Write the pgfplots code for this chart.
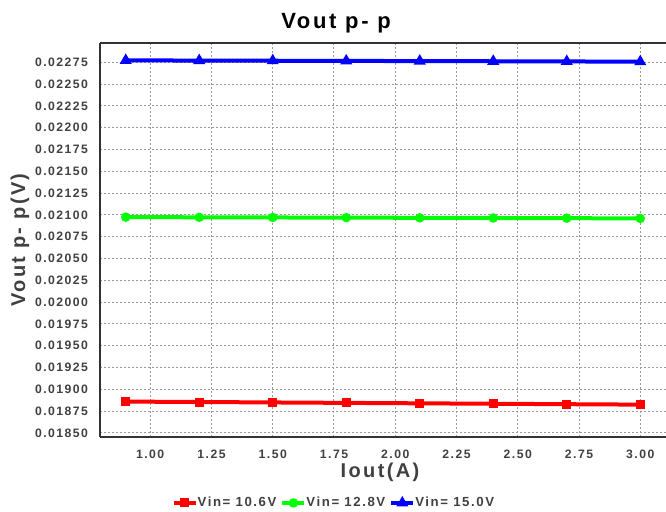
\documentclass[border=0pt]{standalone}
\usepackage{fontspec}
\setmainfont{Liberation Sans}[LetterSpace=12]
\usepackage{pgfplots}
\pgfplotsset{compat=1.18}
\definecolor{txt}{HTML}{404040}
\definecolor{gridc}{HTML}{9A9A9A}
\begin{document}
\begin{tikzpicture}
\path[use as bounding box] (-50pt,-37.5pt) rectangle (283pt,218.5pt);
\begin{axis}[
  at={(0pt,0pt)}, anchor=south west,
  scale only axis,
  width=283pt, height=196.85pt,
  xmin=0.795, xmax=3.105,
  ymin=0.018454, ymax=0.022968,
  axis x line*=bottom,
  axis y line*=left,
  axis line style={line width=0.9pt, color=black!80},
  xtick={1,1.25,1.5,1.75,2,2.25,2.5,2.75,3},
  ytick={0.0185,0.01875,0.019,0.01925,0.0195,0.01975,0.02,0.02025,0.0205,0.02075,0.021,0.02125,0.0215,0.02175,0.022,0.02225,0.0225,0.02275},
  scaled y ticks=false,
  major tick length=0pt,
  /pgf/number format/assume math mode=true,
  xticklabel style={/pgf/number format/fixed, /pgf/number format/fixed zerofill, /pgf/number format/precision=2, yshift=-3pt},
  yticklabel style={/pgf/number format/fixed, /pgf/number format/fixed zerofill, /pgf/number format/precision=5, xshift=-2.5pt},
  ticklabel style={font=\fontsize{6.1}{7}\selectfont\bfseries, text=txt},
  grid=major,
  major grid style={gridc, line width=0.5pt, dash pattern=on 1pt off 1pt},
  title={Vout p- p},
  title style={font=\fontsize{11}{12}\selectfont\bfseries, at={(axis description cs:0.417,1.054)}, anchor=center, yshift=-6.5pt},
  xlabel={Iout(A)},
  xlabel style={font=\fontsize{10}{11}\selectfont\bfseries, text=txt, at={(axis description cs:0.4947,-0.0889)}, anchor=center},
  ylabel={Vout p- p(V)},
  ylabel style={font=\fontsize{10}{11}\selectfont\bfseries, text=txt, at={(axis description cs:-0.1413,0.5)}, anchor=center},
  legend style={draw=none, fill=none, at={(axis description cs:0.415,-0.1676)}, anchor=center,
     legend columns=-1, font=\fontsize{6.6}{8}\selectfont\bfseries, text=txt,
     /tikz/every even column/.append style={column sep=0pt},
     /tikz/every odd column/.append style={column sep=-2pt}, inner sep=0pt},
  legend image code/.code={
     \draw[#1, line width=2pt] (0pt,0pt) -- (11pt,0pt);
     \draw[#1, only marks] plot coordinates {(5.5pt,0pt)};},
  clip=false,
]
\addplot[color=red, line width=2pt, mark=square*, mark size=1.25pt] coordinates {
 (0.9,0.01886) (1.2,0.018855) (1.5,0.01885) (1.8,0.018845) (2.1,0.01884) (2.4,0.018835) (2.7,0.01883) (3.0,0.018825)};
\addlegendentry{Vin= 10.6V}
\addplot[color=green, line width=2pt, mark=*, mark size=1.3pt] coordinates {
 (0.9,0.020975) (1.2,0.020973) (1.5,0.020971) (1.8,0.020969) (2.1,0.020967) (2.4,0.020965) (2.7,0.020963) (3.0,0.02096)};
\addlegendentry{Vin= 12.8V}
\addplot[color=blue, line width=2pt, mark=triangle*, mark size=1.5pt] coordinates {
 (0.9,0.022772) (1.2,0.02277) (1.5,0.022768) (1.8,0.022766) (2.1,0.022764) (2.4,0.022762) (2.7,0.02276) (3.0,0.022757)};
\addlegendentry{Vin= 15.0V}
\draw[line width=0.9pt, color=black!80] (rel axis cs:0,1) -- (rel axis cs:1,1);
\end{axis}
\end{tikzpicture}
\end{document}
